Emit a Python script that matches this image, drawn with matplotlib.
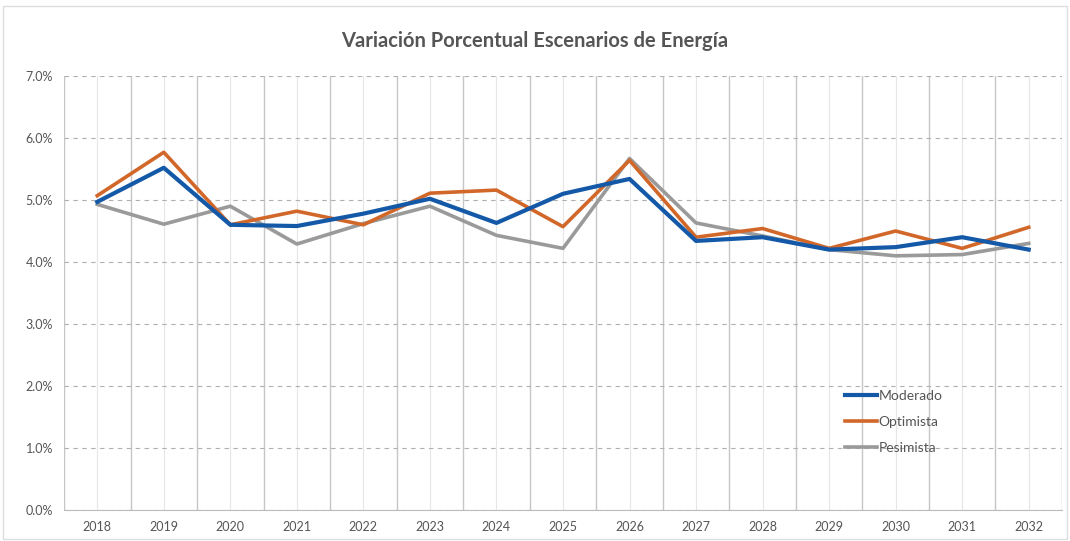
import numpy as np
from matplotlib import pyplot as plt
from matplotlib.ticker import FuncFormatter

plt.rcParams['font.family'] = ['Lato', 'DejaVu Sans']

years = [str(y) for y in range(2018, 2033)]
moderado = [4.97, 5.52, 4.60, 4.58, 4.78, 5.02, 4.63, 5.10, 5.34, 4.34, 4.40, 4.20, 4.24, 4.40, 4.20]
optimista = [5.07, 5.77, 4.60, 4.82, 4.60, 5.11, 5.16, 4.57, 5.64, 4.40, 4.54, 4.22, 4.50, 4.22, 4.56]
pesimista = [4.93, 4.61, 4.90, 4.29, 4.62, 4.90, 4.43, 4.22, 5.67, 4.63, 4.42, 4.20, 4.10, 4.12, 4.30]

fig = plt.figure(figsize=(10.7, 5.41), dpi=100)
ax = fig.add_axes([0.0598, 0.0573, 0.9327, 0.8022])

x = np.arange(len(years))
ax.plot(x, moderado, color='#1459a8', lw=3, label='Moderado', zorder=4)
ax.plot(x, optimista, color='#d2672a', lw=2.6, label='Optimista', zorder=3)
ax.plot(x, pesimista, color='#9a9a9a', lw=2.6, label='Pesimista', zorder=2)

ax.set_xlim(-0.5, len(years) - 0.5)
ax.set_ylim(0, 7)
ax.set_yticks(np.arange(0, 8, 1))
ax.yaxis.set_major_formatter(FuncFormatter(lambda v, p: '{:.1f}%'.format(v)))
ax.set_xticks(x)
ax.set_xticklabels(years)
ax.tick_params(length=0, labelsize=9, colors='#555555', pad=8)

# rejilla
ax.grid(axis='y', color='#b0b0b0', ls=(0, (4, 4)), lw=0.8)
for b in np.arange(-0.5, len(years), 1):
    ax.axvline(b, color='#c6c6c6', lw=1.0, zorder=0)
for c in x:
    ax.axvline(c, color='#e6e6e6', lw=0.8, zorder=0)

for s in ['top', 'right', 'left']:
    ax.spines[s].set_visible(False)
ax.spines['bottom'].set_color('#bbbbbb')

fig.text(0.5, 0.925, 'Variación Porcentual Escenarios de Energía', ha='center', va='center',
         fontsize=14.5, fontweight='bold', color='#555555')

ax.legend(loc='lower left', bbox_to_anchor=(0.77, 0.1), frameon=False, fontsize=10,
          labelcolor='#555555', handlelength=2.3, handletextpad=0.1, labelspacing=1.0)

fig.patches.append(plt.Rectangle((0.003, 0.003), 0.994, 0.985, transform=fig.transFigure,
                                 fill=False, edgecolor='#dddddd', lw=1))

plt.savefig('out.png', dpi=100)
